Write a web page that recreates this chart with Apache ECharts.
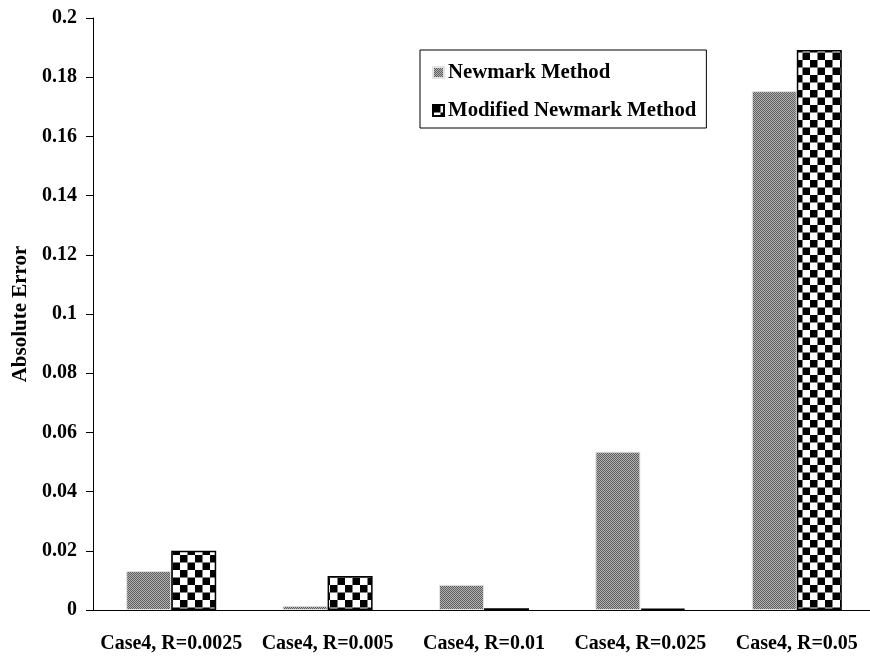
<!DOCTYPE html>
<html><head><meta charset="utf-8">
<script src="https://cdn.jsdelivr.net/npm/echarts@6/dist/echarts.min.js"></script>
<style>html,body{margin:0;padding:0;background:#fff;overflow:hidden}#c{width:877px;height:657px}</style>
</head><body><div id="c"></div>
<script>
const categories = ['Case4, R=0.0025','Case4, R=0.005','Case4, R=0.01','Case4, R=0.025','Case4, R=0.05'];
const newmark = [0.0132, 0.0014, 0.0085, 0.0535, 0.1753];
const modified = [0.0200, 0.0115, 0.0006, 0.0005, 0.1892];
const seriesNames = ['Newmark Method','Modified Newmark Method'];

function grayPattern(){
  const c = document.createElement('canvas'); c.width = 2; c.height = 2;
  const g = c.getContext('2d');
  g.fillStyle = '#b4b4b4'; g.fillRect(0,0,2,2);
  g.fillStyle = '#5c5c5c'; g.fillRect(0,0,1,1); g.fillRect(1,1,1,1);
  return c;
}
function checkPattern(){
  const c = document.createElement('canvas'); c.width = 15; c.height = 15;
  const g = c.getContext('2d');
  g.fillStyle = '#fff'; g.fillRect(0,0,15,15);
  g.fillStyle = '#000'; g.fillRect(0,0,7.5,7.5); g.fillRect(7.5,7.5,7.5,7.5);
  return c;
}
const font = '"Liberation Serif", "Times New Roman", serif';
const chart = echarts.init(document.getElementById('c'));
chart.setOption({
  animation: false,
  backgroundColor: '#fff',
  grid: {left: 93, top: 18, height: 592, width: 782},
  legend: {
    orient: 'vertical', left: 420, top: 50,
    padding: [12, 10, 7, 12],
    borderColor: '#000', borderWidth: 1,
    itemWidth: 11, itemHeight: 11, itemGap: 17,
    textStyle: {fontFamily: font, fontWeight: 'bold', fontSize: 20.8, color: '#000', padding: [0,0,0,-1]},
    data: [{name: seriesNames[0], icon: 'rect'}, {name: seriesNames[1], icon: 'rect'}]
  },
  xAxis: {
    type: 'category', data: categories,
    axisLine: {lineStyle: {color: '#000', width: 1}},
    axisTick: {length: 6, lineStyle: {color: '#000'}},
    axisLabel: {fontFamily: font, fontWeight: 'bold', fontSize: 20, color: '#000', margin: 24, interval: 0}
  },
  yAxis: {
    type: 'value', min: 0, max: 0.2, interval: 0.02,
    name: 'Absolute Error', nameLocation: 'middle', nameGap: 62, nameRotate: 90,
    nameTextStyle: {fontFamily: font, fontWeight: 'bold', fontSize: 21, color: '#000'},
    axisLine: {show: true, lineStyle: {color: '#000'}},
    axisTick: {show: true, length: 7, lineStyle: {color: '#000'}},
    splitLine: {show: false},
    axisLabel: {fontFamily: font, fontWeight: 'bold', fontSize: 20, color: '#000', margin: 16,
      formatter: v => String(Math.round(v*100)/100)}
  },
  series: [
    {name: seriesNames[0], type: 'bar', data: newmark, barWidth: 45, barGap: '0%',
     itemStyle: {color: {image: grayPattern(), repeat: 'repeat'}, borderColor: '#e4e4e4', borderWidth: 1}},
    {name: seriesNames[1], type: 'bar', data: modified, barWidth: 45, barGap: '0%',
     itemStyle: {color: {image: checkPattern(), repeat: 'repeat'}, borderColor: '#000', borderWidth: 1.5}}
  ]
});
</script></body></html>
